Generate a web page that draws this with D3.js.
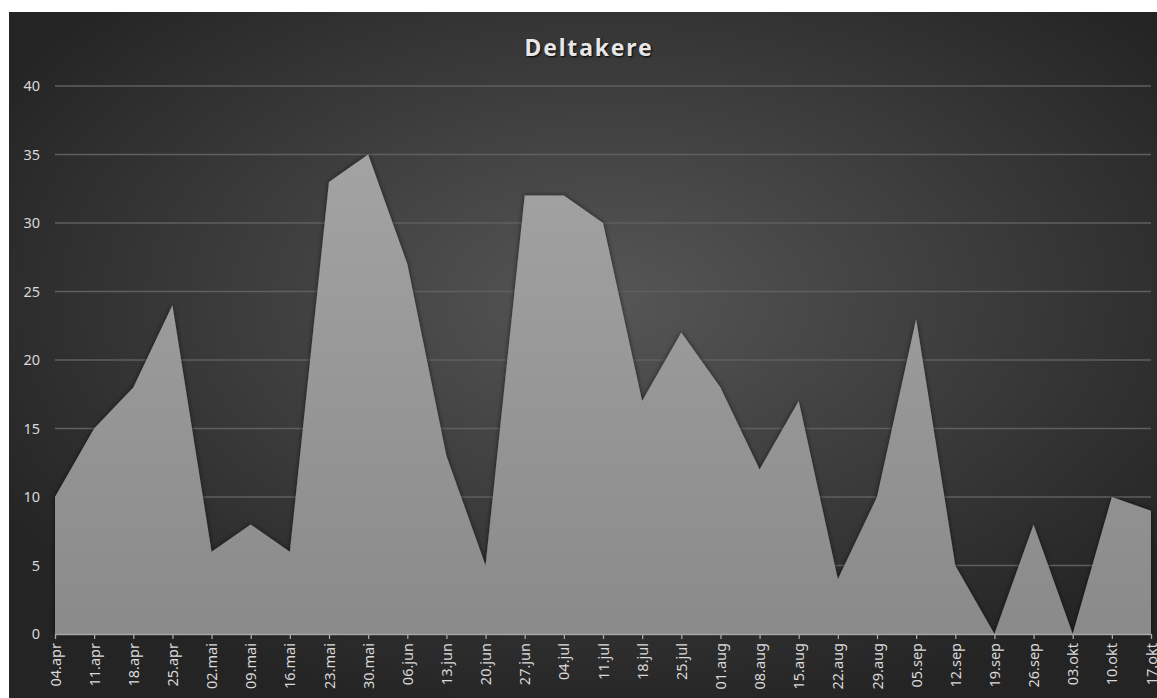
<!DOCTYPE html>
<html>
<head>
<meta charset="utf-8">
<script src="https://d3js.org/d3.v7.min.js"></script>
<style>
  body { margin: 0; background: #fff; }
  text { font-family: "Noto Sans", "Open Sans", sans-serif; }
</style>
</head>
<body>
<div id="chart-area"></div>
<script>
const weeks = ["04.apr","11.apr","18.apr","25.apr","02.mai","09.mai","16.mai","23.mai","30.mai",
  "06.jun","13.jun","20.jun","27.jun","04.jul","11.jul","18.jul","25.jul","01.aug","08.aug",
  "15.aug","22.aug","29.aug","05.sep","12.sep","19.sep","26.sep","03.okt","10.okt","17.okt"]
const deltakere = [10,15,18,24,6,8,6,33,35,27,13,5,32,32,30,17,22,18,12,17,4,10,23,5,0,8,0,10,9]
const yTicks = [0,5,10,15,20,25,30,35,40]

const W = 1157, H = 698
const margin = { top: 86, right: 6, bottom: 64, left: 55 }
const width = W - margin.left - margin.right,
      height = H - margin.top - margin.bottom

const svg = d3.select("#chart-area").append("svg")
    .attr("width", W)
    .attr("height", H)

const defs = svg.append("defs")
const bg = defs.append("radialGradient")
    .attr("id", "bg")
    .attr("cx", "52%").attr("cy", "42%").attr("r", "62%")
bg.append("stop").attr("offset", "0%").attr("stop-color", "#565656")
bg.append("stop").attr("offset", "100%").attr("stop-color", "#242424")

const fillGrad = defs.append("linearGradient")
    .attr("id", "areaFill")
    .attr("x1", 0).attr("y1", 0).attr("x2", 0).attr("y2", 1)
fillGrad.append("stop").attr("offset", "0%").attr("stop-color", "#a3a3a3")
fillGrad.append("stop").attr("offset", "100%").attr("stop-color", "#8a8a8a")

const shadow = defs.append("filter").attr("id", "shadow")
    .attr("x", "-5%").attr("y", "-5%").attr("width", "110%").attr("height", "110%")
shadow.append("feDropShadow")
    .attr("dx", 0).attr("dy", 0).attr("stdDeviation", 2.5)
    .attr("flood-color", "#000").attr("flood-opacity", 0.6)

// panel
svg.append("rect")
    .attr("x", 9).attr("y", 12)
    .attr("width", W - 9).attr("height", H - 12)
    .attr("fill", "url(#bg)")

const g = svg.append("g")
    .attr("transform", "translate(" + margin.left + "," + margin.top + ")")

const x = d3.scalePoint()
    .domain(weeks)
    .range([0, width])

const y = d3.scaleLinear()
    .domain([0, 40])
    .range([height, 0])

// gridlines
g.append("g")
    .selectAll("line")
    .data(yTicks.filter(d => d > 0))
    .enter().append("line")
        .attr("x1", 0).attr("x2", width)
        .attr("y1", d => y(d)).attr("y2", d => y(d))
        .attr("stroke", "#5f5f5f")
        .attr("stroke-width", 1.3)

const area = d3.area()
    .x((d, i) => x(weeks[i]))
    .y0(height)
    .y1(d => y(d))

g.append("path")
    .datum(deltakere)
    .attr("d", area)
    .attr("fill", "url(#areaFill)")
    .attr("filter", "url(#shadow)")

// y axis labels
const yAxisCall = d3.axisLeft(y).tickValues(yTicks).tickSize(0).tickPadding(15)
const yAx = g.append("g").attr("class", "y-axis").call(yAxisCall)
yAx.select(".domain").remove()
yAx.selectAll("text")
    .attr("fill", "#d9d9d9")
    .attr("font-size", "14.5px")

// x axis
const xAxisCall = d3.axisBottom(x).tickSize(5).tickSizeOuter(0)
const xAx = g.append("g")
    .attr("class", "x axis")
    .attr("transform", "translate(0," + height + ")")
    .call(xAxisCall)
xAx.select(".domain").attr("stroke", "#a6a6a6").attr("stroke-width", 1.5)
xAx.selectAll("line").attr("stroke", "#a6a6a6").attr("stroke-width", 1.3)
xAx.selectAll("text")
    .attr("fill", "#d9d9d9")
    .attr("font-size", "14.5px")
    .attr("y", 0)
    .attr("x", -9)
    .attr("dy", "0.35em")
    .attr("text-anchor", "end")
    .attr("transform", "rotate(-90)")

// title
svg.append("text")
    .attr("x", 589)
    .attr("y", 56)
    .attr("text-anchor", "middle")
    .attr("font-size", "23px")
    .attr("font-weight", "bold")
    .attr("letter-spacing", "1.8px")
    .attr("fill", "#e6e6e6")
    .style("text-shadow", "1px 1px 2px #000")
    .text("Deltakere")
</script>
</body>
</html>
